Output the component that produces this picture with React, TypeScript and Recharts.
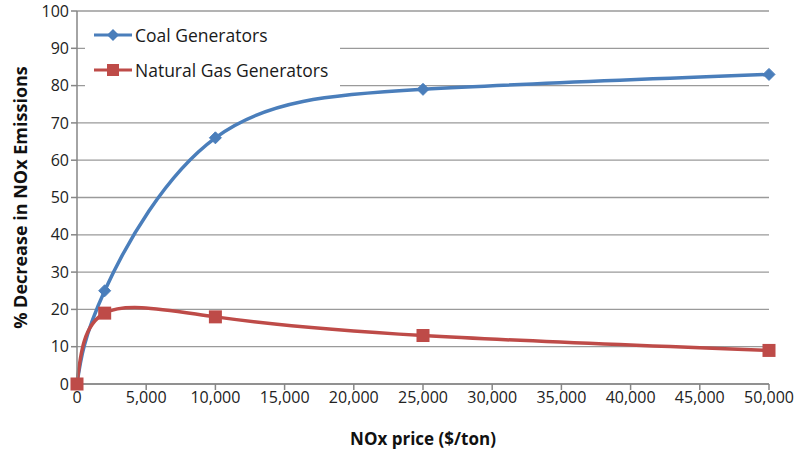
import React from 'react';
import { LineChart, Line, XAxis, YAxis, CartesianGrid } from 'recharts';

const prices = [0, 2000, 10000, 25000, 50000];
const coal = [0, 25, 66, 79, 83];
const gas = [0, 19, 18, 13, 9];
const xTicks = [0, 5000, 10000, 15000, 20000, 25000, 30000, 35000, 40000, 45000, 50000];
const yTicks = [0, 10, 20, 30, 40, 50, 60, 70, 80, 90, 100];

const COAL = '#4A7EBB';
const GAS = '#BE4B48';
const FONT = '"Open Sans", "Noto Sans", sans-serif';

const data = prices.map((p, i) => ({ price: p, coal: coal[i], gas: gas[i] }));

const Diamond = (props: any) => {
  const { cx, cy, index } = props;
  if (cx == null || cy == null) return null;
  const r = 6;
  return (
    <path
      key={`d-${index}`}
      d={`M${cx},${cy - r}L${cx + r},${cy}L${cx},${cy + r}L${cx - r},${cy}Z`}
      fill={COAL}
      stroke={COAL}
    />
  );
};

const Square = (props: any) => {
  const { cx, cy, index } = props;
  if (cx == null || cy == null) return null;
  const s = 6.5;
  return <rect key={`s-${index}`} x={cx - s} y={cy - s} width={s * 2} height={s * 2} fill={GAS} />;
};

function LegendBox() {
  const items = [
    { name: 'Coal Generators', color: COAL, marker: 'diamond' },
    { name: 'Natural Gas Generators', color: GAS, marker: 'square' },
  ];
  return (
    <div
      style={{
        position: 'absolute',
        left: 85,
        top: 17,
        width: 255,
        boxSizing: 'border-box',
        background: '#fff',
        padding: '0 0 0 9px',
      }}
    >
      {items.map((it) => (
        <div key={it.name} style={{ display: 'flex', alignItems: 'center', height: 35 }}>
          <svg width={38} height={16} style={{ marginRight: 3 }}>
            <line x1={0} y1={8} x2={38} y2={8} stroke={it.color} strokeWidth={3} />
            {it.marker === 'diamond' ? (
              <path d="M19,2L25,8L19,14L13,8Z" fill={it.color} />
            ) : (
              <rect x={13} y={2} width={12} height={12} fill={it.color} />
            )}
          </svg>
          <span style={{ fontFamily: FONT, fontSize: 17.5, color: '#1a1a1a', whiteSpace: 'nowrap' }}>
            {it.name}
          </span>
        </div>
      ))}
    </div>
  );
}

export default function App() {
  return (
    <div style={{ position: 'absolute', left: 0, top: 0, width: 795, height: 449, background: '#fff' }}>
      <LineChart width={795} height={449} data={data} margin={{ top: 11, right: 26, left: 0, bottom: 0 }}>
        <CartesianGrid horizontal vertical={false} stroke="#9a9a9a" strokeWidth={1.3} />
        <XAxis
          dataKey="price"
          type="number"
          domain={[0, 50000]}
          ticks={xTicks}
          interval={0}
          height={65}
          tickFormatter={(v: number) => v.toLocaleString('en-US')}
          tick={{ fontFamily: FONT, fontSize: 16, fill: '#222' }}
          stroke="#868686"
          strokeWidth={1.5}
          tickSize={6}
          label={{
            value: 'NOx price ($/ton)',
            position: 'insideBottom',
            offset: 4,
            style: { fontFamily: FONT, fontSize: 17, fontWeight: 700, fill: '#111' },
          }}
        />
        <YAxis
          type="number"
          domain={[0, 100]}
          ticks={yTicks}
          interval={0}
          width={77}
          tick={{ fontFamily: FONT, fontSize: 16, fill: '#222' }}
          stroke="#868686"
          strokeWidth={1.5}
          tickSize={6}
          label={{
            value: '% Decrease in NOx Emissions',
            angle: -90,
            position: 'insideLeft',
            offset: 21,
            style: { fontFamily: FONT, fontSize: 18, fontWeight: 700, fill: '#111', textAnchor: 'middle' },
          }}
        />
        <Line
          dataKey="coal"
          name="Coal Generators"
          type="natural"
          stroke={COAL}
          strokeWidth={3.5}
          dot={Diamond}
          activeDot={false}
          isAnimationActive={false}
        />
        <Line
          dataKey="gas"
          name="Natural Gas Generators"
          type="natural"
          stroke={GAS}
          strokeWidth={3.5}
          dot={Square}
          activeDot={false}
          isAnimationActive={false}
        />
      </LineChart>
      <LegendBox />
    </div>
  );
}
